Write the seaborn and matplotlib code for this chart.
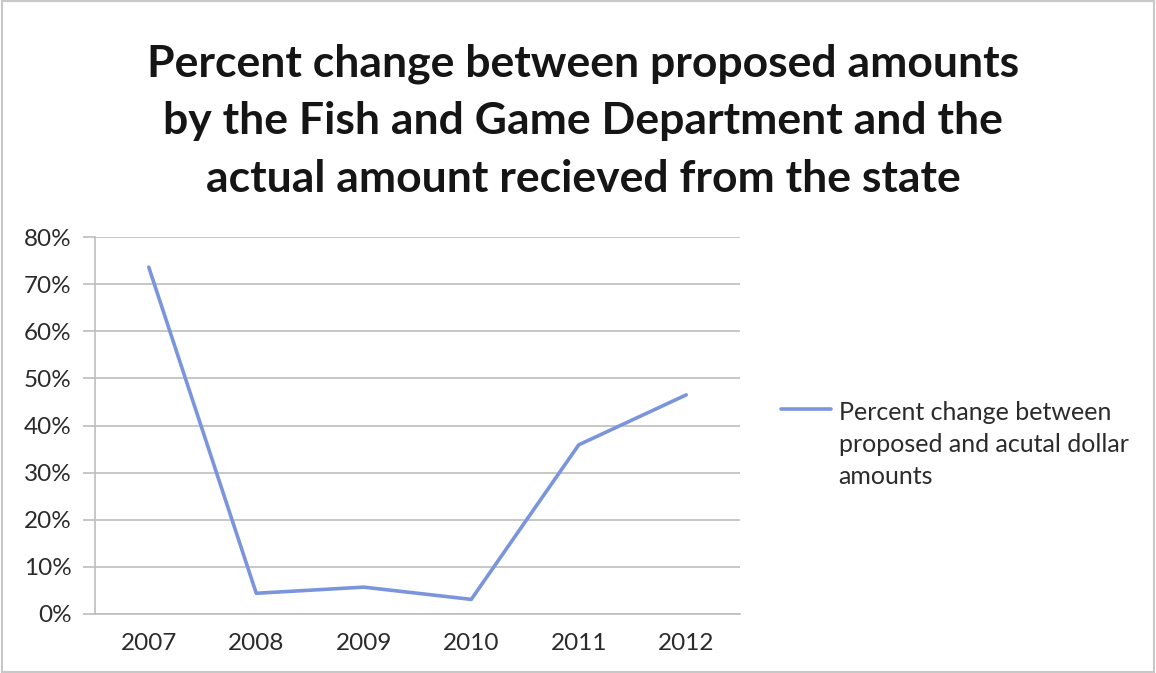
import numpy as np
import pandas as pd
import matplotlib
matplotlib.use("Agg")
import matplotlib.pyplot as plt
from matplotlib.ticker import FixedLocator, PercentFormatter
import seaborn as sns

years = ["2007", "2008", "2009", "2010", "2011", "2012"]
pct_change = [73.6, 4.4, 5.7, 3.1, 35.9, 46.5]
yticks = [0, 10, 20, 30, 40, 50, 60, 70, 80]
series_label = "Percent change between\nproposed and acutal dollar\namounts"
title = ("Percent change between proposed amounts\n"
         "by the Fish and Game Department and the\n"
         "actual amount recieved from the state")

df = pd.DataFrame({"year": years, "pct": pct_change})

sns.set_style("white")
plt.rcParams["font.family"] = ["Lato", "DejaVu Sans"]

fig = plt.figure(figsize=(11.56, 6.73), dpi=100)
ax = fig.add_axes([95 / 1156, (673 - 614) / 673, (740 - 95) / 1156, (614 - 237) / 673])

sns.lineplot(data=df, x="year", y="pct", ax=ax, color="#7A95DB", linewidth=2.6,
             label=series_label, sort=False)

ax.set_xlim(-0.5, len(years) - 0.5)
ax.set_ylim(0, 80)
ax.set_yticks(yticks)
ax.yaxis.set_major_formatter(PercentFormatter(decimals=0))
ax.grid(axis="y", color="#BDBDBD", linewidth=1.2)
ax.grid(axis="x", visible=False)
ax.set_xlabel("")
ax.set_ylabel("")

ax.xaxis.set_minor_locator(FixedLocator(np.arange(-0.5, len(years), 1.0)))
ax.tick_params(axis="x", which="major", length=0, pad=14, labelsize=17.5, labelcolor="#2b2b2b")
ax.tick_params(axis="x", which="minor", length=7, color="#BDBDBD", width=1.2, direction="out")
ax.tick_params(axis="y", which="major", length=9, color="#BDBDBD", width=1.2, pad=8,
               labelsize=17.5, labelcolor="#2b2b2b", left=True)

for side in ["top", "right"]:
    ax.spines[side].set_visible(False)
for side in ["left", "bottom"]:
    ax.spines[side].set_color("#BDBDBD")
    ax.spines[side].set_linewidth(1.2)

leg = ax.legend(loc="upper left", bbox_to_anchor=(758 / 1156, (673 - 378) / 673),
                bbox_transform=fig.transFigure, frameon=False, fontsize=18,
                handlelength=2.0, handletextpad=0.32, labelcolor="#2b2b2b")
for col in leg._legend_handle_box.get_children():
    for row in col.get_children():
        row.align = "top"
for t in leg.get_texts():
    t.set_linespacing(1.5)

fig.text(583 / 1156, 1 - 121 / 673, title, ha="center", va="center", fontsize=32,
         fontweight="bold", color="#151515", linespacing=1.53)

fig.patches.append(plt.Rectangle((0.002, 0.002), 0.996, 0.996, transform=fig.transFigure,
                                 fill=False, edgecolor="#C8C8C8", linewidth=1.5))

fig.savefig("out.png", dpi=100, facecolor="white")
